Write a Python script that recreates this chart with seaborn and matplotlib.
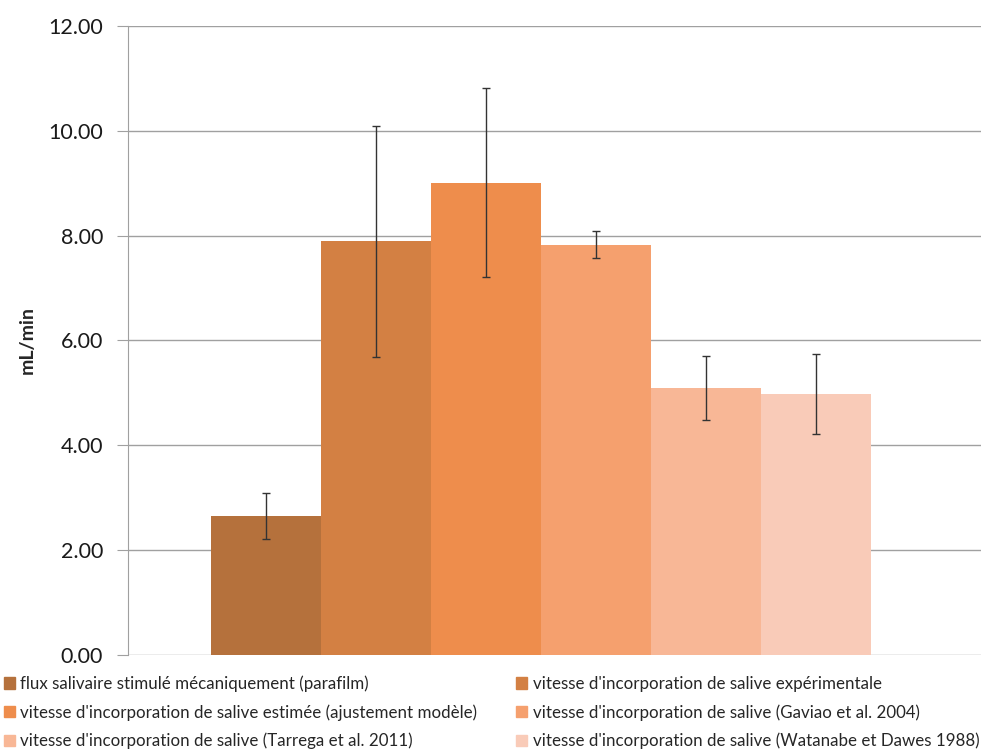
import numpy as np
import pandas as pd
import seaborn as sns
import matplotlib.pyplot as plt

series = [
    "flux salivaire stimulé mécaniquement (parafilm)",
    "vitesse d'incorporation de salive expérimentale",
    "vitesse d'incorporation de salive estimée (ajustement modèle)",
    "vitesse d'incorporation de salive (Gaviao et al. 2004)",
    "vitesse d'incorporation de salive (Tarrega et al. 2011)",
    "vitesse d'incorporation de salive (Watanabe et Dawes 1988)",
]
values = [2.65, 7.90, 9.01, 7.82, 5.10, 4.98]
err_low = [0.44, 2.21, 1.80, 0.24, 0.61, 0.76]
err_high = [0.44, 2.20, 1.81, 0.27, 0.61, 0.76]
colors = ["#B5713C", "#D38043", "#EE8D4C", "#F5A06E", "#F8B796", "#F9CBB8"]

df = pd.DataFrame({"cat": [""] * len(series), "series": series, "value": values})

sns.set_style("white")
plt.rcParams['font.family'] = ['Lato', 'DejaVu Sans']

fig = plt.figure(figsize=(9.89, 7.49), dpi=100)
ax = fig.add_axes([0.1294, 0.1255, 0.8626, 0.8398])

sns.barplot(data=df, x="cat", y="value", hue="series", hue_order=series,
            palette=colors, saturation=1, width=0.8, linewidth=0, ax=ax, legend=False)

# error bars on the bar centres
bar_containers = list(ax.containers)
for i, cont in enumerate(bar_containers):
    bar = cont.patches[0]
    xc = bar.get_x() + bar.get_width() / 2
    ax.errorbar(xc, values[i], yerr=[[err_low[i]], [err_high[i]]], fmt="none",
                ecolor="#333333", elinewidth=1, capsize=3, capthick=1)

ax.set_ylim(0, 12)
ax.set_xlim(-0.5, 0.533)
ax.set_yticks(np.arange(0, 12.01, 2))
ax.set_yticklabels([f"{v:.2f}" for v in np.arange(0, 12.01, 2)], fontsize=15.5, color="#1a1a1a")
ax.set_xticks([])
ax.set_xlabel("")
ax.set_ylabel("mL/min", fontsize=14, fontweight="bold", labelpad=9)
ax.yaxis.grid(True, color="#A0A0A0", linewidth=1)
ax.set_axisbelow(True)
for s in ["top", "right", "bottom"]:
    ax.spines[s].set_visible(False)
ax.spines["left"].set_color("#A0A0A0")
ax.tick_params(axis="y", length=8, color="#A0A0A0", left=True, pad=10)

# legend: row-wise order in 2 columns
handles = [plt.Rectangle((0, 0), 1, 1, color=c) for c in colors]
order = [0, 2, 4, 1, 3, 5]
fig.legend([handles[i] for i in order], [series[i] for i in order], ncol=2,
           loc="lower left", bbox_to_anchor=(-0.011, -0.021), frameon=False,
           fontsize=12.2, handlelength=0.65, handleheight=0.65, handletextpad=0.3,
           columnspacing=2.3, labelspacing=0.72)

fig.savefig("out.png", dpi=100)
